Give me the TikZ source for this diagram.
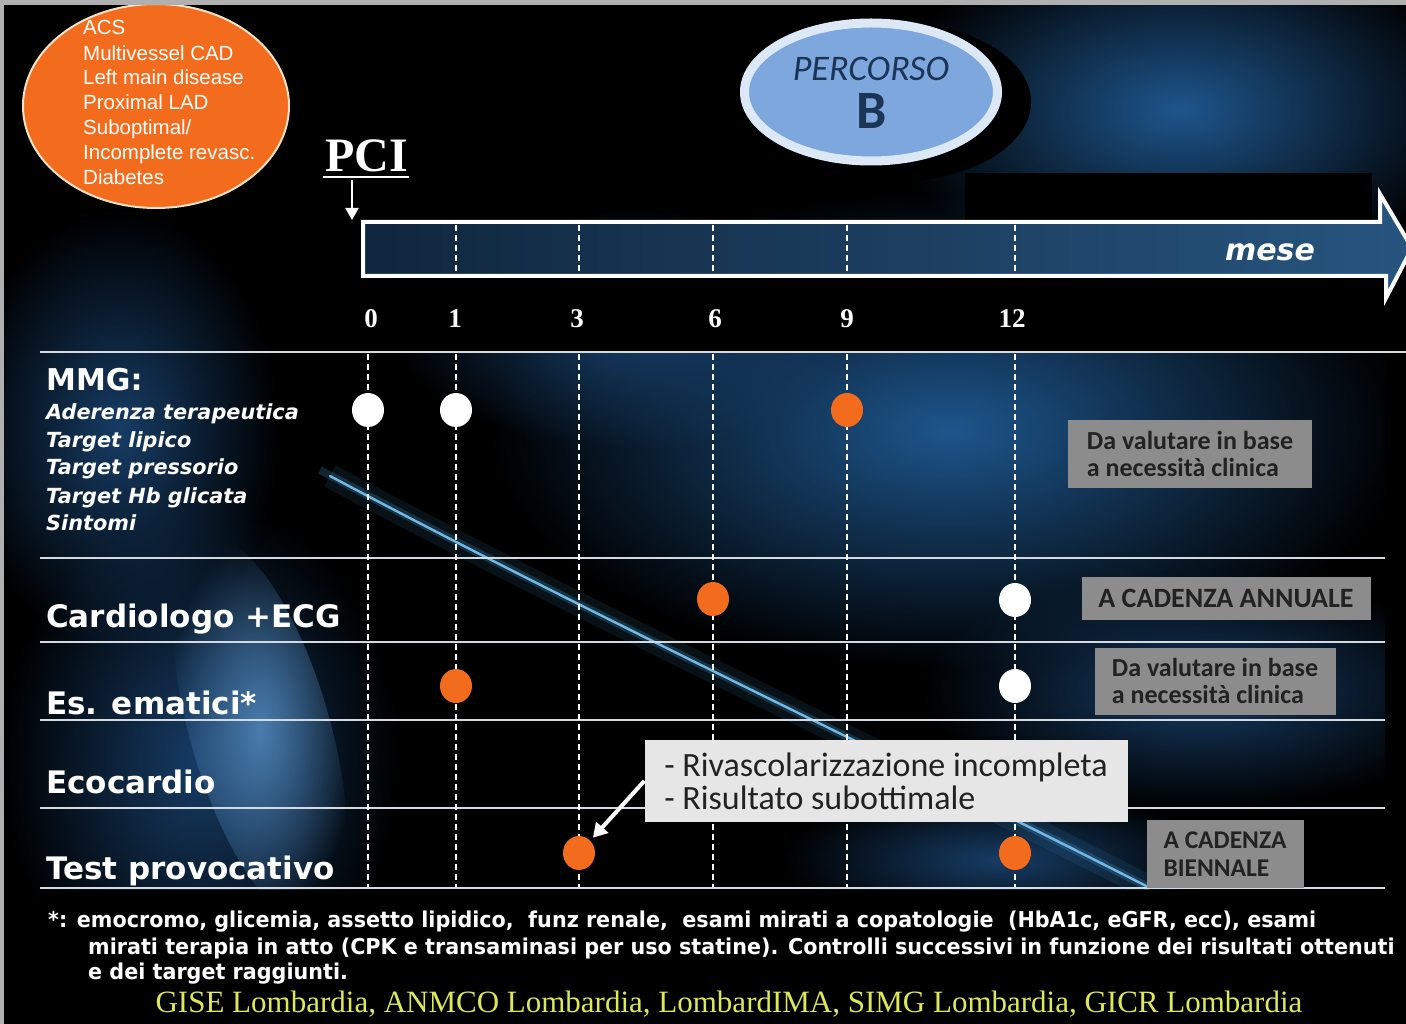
\documentclass[tikz,border=0pt]{standalone}
\usepackage{fontspec}
\setmainfont{Liberation Serif}
\newfontfamily\arialf{Liberation Sans}
\newfontfamily\verdf{DejaVu Sans}
\newfontfamily\verdcond[FakeStretch=0.95]{DejaVu Sans}
\newfontfamily\calf{Carlito}
\usetikzlibrary{fadings,arrows.meta,shapes.geometric}
\tikzfading[name=glowfade, inner color=transparent!0, outer color=transparent!100]
\definecolor{orng}{HTML}{F36B1C}
\definecolor{cream}{HTML}{F3E2C8}
\definecolor{boxgray}{HTML}{8C8C8C}
\definecolor{boxtext}{HTML}{222222}
\definecolor{callgray}{HTML}{E6E6E6}
\definecolor{gridc}{HTML}{D4DAE0}
\definecolor{ringc}{HTML}{DCE8F6}
\definecolor{percfill}{HTML}{7DA7DD}
\definecolor{perctext}{HTML}{1C3455}
\definecolor{gisec}{HTML}{DDE858}
\definecolor{glowA}{HTML}{1E568C}
\definecolor{glowB}{HTML}{173D66}
\definecolor{glowC}{HTML}{4A7DAE}
\definecolor{beamc}{HTML}{4FA8E0}
\definecolor{arrL}{HTML}{10263E}
\definecolor{arrR}{HTML}{27557F}
\definecolor{framec}{HTML}{B0B0B0}
\newcommand\fsz[2]{\fontsize{#1}{#2}\selectfont}
\begin{document}
\begin{tikzpicture}[x=1pt,y=-1pt,
  rowlab/.style={anchor=base west, inner sep=0, text=white, font=\verdf\bfseries\fsz{31}{36}},
  mmgitem/.style={anchor=base west, inner sep=0, text=white, font=\verdf\bfseries\itshape\fsz{20.8}{24}},
  numlab/.style={anchor=base, inner sep=0, text=white, font=\bfseries\fsz{27}{30}},
  wdot/.style={ellipse, fill=white, minimum width=32pt, minimum height=34pt, inner sep=0},
  odot/.style={wdot, fill=orng},
  graybox/.style={fill=boxgray, text=boxtext, align=left, inner sep=0, font=\calf\bfseries\fsz{26}{27}},
  gridline/.style={draw=gridc, line width=2pt},
  vdash/.style={draw=white, line width=1.3pt, dash pattern=on 6pt off 4pt},
  acsitem/.style={anchor=base west, inner sep=0, text=white, font=\arialf\fsz{20.5}{25}},
  foot/.style={anchor=base west, inner sep=0, text=white, font=\verdcond\bfseries\fsz{21.8}{24}},
  callarrow/.style={draw=white, line width=4pt, -{Triangle[width=16pt,length=14pt]}, shorten >=4pt},
  pciarrow/.style={draw=white, line width=2.5pt, -{Triangle[width=13pt,length=12pt]}}
]
\useasboundingbox (0,0) rectangle (1406,1024);
\fill[black] (0,0) rectangle (1406,1024);
% background glows
\fill[glowA, path fading=glowfade] (1180,110) ellipse [x radius=300, y radius=170];
\fill[glowA, path fading=glowfade] (950,430) ellipse [x radius=460, y radius=240];
\fill[glowB, path fading=glowfade] (640,330) ellipse [x radius=250, y radius=120];
\fill[glowB, path fading=glowfade] (1200,690) ellipse [x radius=280, y radius=120];
\fill[glowB, path fading=glowfade] (200,760) ellipse [x radius=200, y radius=260];
\fill[glowC, path fading=glowfade, shift={(260,730)}, rotate=16] (0,0) ellipse [x radius=70, y radius=200];
\fill[glowB, path fading=glowfade] (120,430) ellipse [x radius=160, y radius=220];
\fill[glowB, path fading=glowfade] (1000,860) ellipse [x radius=220, y radius=70];
% light beam
\draw[beamc, opacity=0.10, line width=24pt, line cap=butt] (330,476) .. controls (600,620) and (900,760) .. (1150,888);
\draw[beamc, opacity=0.22, line width=8pt, line cap=butt] (320,470) .. controls (600,620) and (900,760) .. (1150,888);
\draw[beamc!80!white, line width=2.4pt, line cap=round] (330,476) .. controls (600,620) and (900,760) .. (1150,888);
% black blocks
\fill[black] (965,173) rectangle (1372,221);
\fill[black] (348,278) rectangle (1385,352);
\fill[black] (1385,298) rectangle (1406,1024);
% timeline arrow
\path[left color=arrL, right color=arrR, draw=white, line width=4pt, line join=miter]
  (363,222) -- (1380,222) -- (1380,194) -- (1412,248) -- (1386,298) -- (1386,276) -- (363,276) -- cycle;
\node[anchor=base, text=white, font=\verdf\bfseries\itshape\fsz{30}{34}] (mese) at (1270,261) {mese};
% numbers
\node[numlab] (n0) at (371,328) {0};
\node[numlab] (n1) at (455,328) {1};
\node[numlab] (n3) at (577,328) {3};
\node[numlab] (n6) at (715,328) {6};
\node[numlab] (n9) at (847,328) {9};
\node[numlab] (n12) at (1012,328) {12};
% grid lines
\draw[gridline] (40,352) -- (1406,352);
\foreach \yy in {558,642,720,808,888} \draw[gridline] (40,\yy) -- (1385,\yy);
% dashed verticals
\foreach \xx in {456,579,713,847,1015} \draw[vdash] (\xx,225) -- (\xx,274);
\foreach \xx in {368,456,579,713,847,1015} \draw[vdash] (\xx,354) -- (\xx,887);
% row labels
\node[rowlab, font=\verdf\bfseries\fsz{30}{34}] (mmg) at (46,391) {MMG:};
\node[mmgitem] (mi1) at (46,419) {Aderenza terapeutica};
\node[mmgitem] (mi2) at (46,447) {Target lipico};
\node[mmgitem] (mi3) at (46,474) {Target pressorio};
\node[mmgitem] (mi4) at (46,503) {Target Hb glicata};
\node[mmgitem] (mi5) at (46,530) {Sintomi};
\node[rowlab] (card) at (46,627) {Cardiologo +ECG};
\node[rowlab] (ema) at (46,714) {Es. ematici*};
\node[rowlab] (eco) at (46,793) {Ecocardio};
\node[rowlab] (test) at (46,879) {Test provocativo};
% dots
\node[wdot] (m0) at (368,410) {};
\node[wdot] (m1) at (456,410) {};
\node[odot] (m9) at (847,410) {};
\node[odot] (c6) at (713,599) {};
\node[wdot] (c12) at (1015,600) {};
\node[odot] (e1) at (456,686) {};
\node[wdot] (e12) at (1015,686) {};
\node[odot] (t3) at (579,853) {};
\node[odot] (t12) at (1015,853) {};
% gray boxes
\node[graybox, minimum width=244pt, minimum height=68pt] (g1) at (1190,454) {Da valutare in base\\a necessità clinica};
\node[graybox, minimum width=289pt, minimum height=43pt, font=\calf\bfseries\fsz{28}{28}] (g2) at (1226,598) {A CADENZA ANNUALE};
\node[graybox, minimum width=241pt, minimum height=67pt] (g3) at (1215,681) {Da valutare in base\\a necessità clinica};
\node[graybox, minimum width=157pt, minimum height=68pt, font=\calf\bfseries\fsz{25.5}{28}] (g4) at (1225,854) {A CADENZA\\BIENNALE};
% callout
\node[fill=callgray, text=boxtext, align=left, inner sep=0, minimum width=483pt, minimum height=82pt, font=\calf\fsz{34}{33}] (callout) at (886,781) {- Rivascolarizzazione incompleta\\- Risultato subottimale};
\draw[callarrow] (callout.west) -- (t3);
% bottom band
\fill[black] (40,890) rectangle (1406,1024);
\node[foot] (f1) at (48,927) {*: emocromo, glicemia, assetto lipidico,~ funz renale,~ esami mirati a copatologie~ (HbA1c, eGFR, ecc), esami};
\node[foot] (f2) at (88,954) {mirati terapia in atto (CPK e transaminasi per uso statine). Controlli successivi in funzione dei risultati ottenuti};
\node[foot] (f3) at (88,979) {e dei target raggiunti.};
\node[anchor=base, inner sep=0, text=gisec, font=\fsz{31}{34}] (gise) at (729,1012) {GISE Lombardia, ANMCO Lombardia, LombardIMA, SIMG Lombardia, GICR Lombardia};
% orange ellipse
\node[ellipse, fill=orng, draw=cream, line width=2pt, minimum width=266pt, minimum height=204pt] (acs) at (156,106) {};
\node[acsitem] (a1) at (83,35) {ACS};
\node[acsitem] (a2) at (83,61) {Multivessel CAD};
\node[acsitem] (a3) at (83,85) {Left main disease};
\node[acsitem] (a4) at (83,110) {Proximal LAD};
\node[acsitem] (a5) at (83,135) {Suboptimal/};
\node[acsitem] (a6) at (83,160) {Incomplete revasc.};
\node[acsitem] (a7) at (83,185) {Diabetes};
% percorso
\fill[black] (893,102) ellipse [x radius=138, y radius=80];
\node[ellipse, draw=ringc, line width=9pt, fill=percfill, minimum width=253pt, minimum height=138pt] (perc) at (871,92) {};
\node[anchor=base, inner sep=0, text=perctext, font=\calf\itshape\fsz{36}{40}] (percT) at (871,81) {PERCORSO};
\node[anchor=base, inner sep=0, text=perctext, font=\calf\bfseries\fsz{54}{60}] (percB) at (872,129) {B};
% PCI
\node[anchor=base west, inner sep=0, text=white, font=\bfseries\fsz{48}{52}] (pci) at (325,172) {PCI};
\coordinate (ul1) at (323,177);
\coordinate (ul2) at (409,177);
\draw[white, line width=2pt] (ul1) -- (ul2);
\coordinate (pcistart) at (352,180);
\coordinate (pciend) at (352,220);
\draw[pciarrow] (pcistart) -- (pciend);
% frame
\fill[framec] (0,0) rectangle (1406,5);
\fill[framec] (0,0) rectangle (4,1024);
\end{tikzpicture}
\end{document}
